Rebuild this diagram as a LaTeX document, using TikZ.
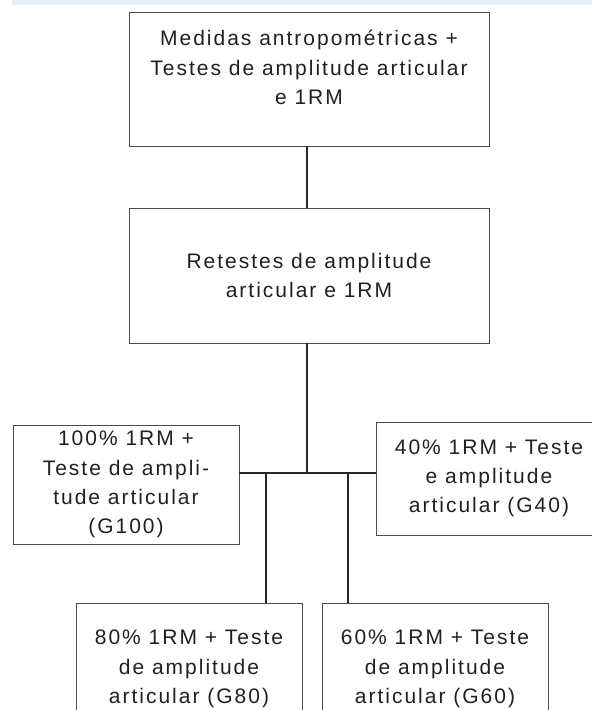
\documentclass[tikz,border=0pt]{standalone}
\usepackage{fontspec}
\setmainfont{Liberation Sans}[LetterSpace=9.5]
\usetikzlibrary{positioning}
\definecolor{bandblue}{RGB}{223,241,249}
\definecolor{inkgray}{RGB}{35,31,32}

\begin{document}
\begin{tikzpicture}[
        x=1pt,y=-1pt,on grid,
        box/.style={draw=black!70,line width=0.9pt,align=center,inner sep=0pt,text=inkgray,
          font=\fontsize{21}{29.3}\selectfont,minimum width=226pt},
        wide box/.style={box,minimum width=360pt},
        link/.style={draw=black!85,line width=1.1pt}
        ]

        \useasboundingbox (0,0) rectangle (592,710);
        \clip (0,0) rectangle (592,710);
        \fill[bandblue] (12,0) rectangle (592,4.5);

        \node[wide box,minimum height=134pt,text depth=23pt] (b_0) at (309,79)  {Medidas antropométricas +\\Testes de amplitude articular\\e 1RM};
        \node[wide box,minimum height=135pt]                 (b_1) [below=196.5pt of b_0] {Retestes de amplitude\\articular e 1RM};
        \node[box,minimum height=119pt]                      (g_100) at (126,484.5) {100\% 1RM +\\Teste de ampli-\\tude articular\\(G100)};
        \node[box,minimum height=113pt]                      (g_40)  at (489,478.5) {40\% 1RM + Teste\\e amplitude\\articular (G40)};
        \node[box,minimum height=132pt]                      (g_80)  at (189,669)   {80\% 1RM + Teste\\de amplitude\\articular (G80)};
        \node[box,minimum height=132pt]                      (g_60)  [right=246pt of g_80] {60\% 1RM + Teste\\de amplitude\\articular (G60)};

        \coordinate (j)    at (307,473);
        \coordinate (j_80) at (266,473);
        \coordinate (j_60) at (348,473);

        \path[link] (b_0.south -| j) -- (b_1.north -| j)
        (b_1.south -| j) -- (j)
        (g_100.east |- j) -- (g_40.west |- j)
        (j_80) -- (g_80.north -| j_80)
        (j_60) -- (g_60.north -| j_60);
      \end{tikzpicture}
\end{document}
